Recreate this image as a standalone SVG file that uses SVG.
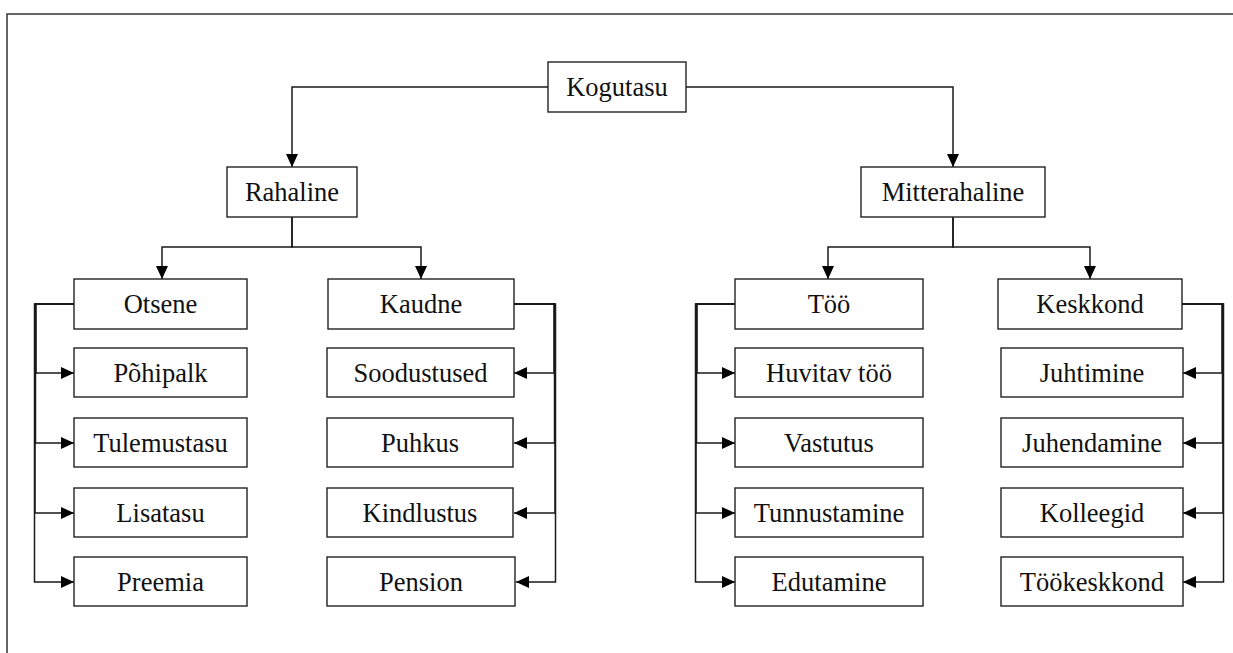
<svg xmlns="http://www.w3.org/2000/svg" width="1233" height="653" viewBox="0 0 1233 653">
<style>
.box{fill:#fff;stroke:#222;stroke-width:1.4}
.lbl{font-family:"Liberation Serif","Times New Roman",serif;font-size:26.5px;fill:#111;text-anchor:middle}
.con{fill:none;stroke:#1a1a1a;stroke-width:1.5}
.frame{fill:none;stroke:#333;stroke-width:1.5}
</style>
<defs>
<marker id="arr" viewBox="0 0 13 12" refX="13" refY="6" markerWidth="13" markerHeight="12" markerUnits="userSpaceOnUse" orient="auto">
<path d="M0,0 L13,6 L0,12 Z" fill="#000"/>
</marker>
</defs>
<rect width="1233" height="653" fill="#fff"/>
<path class="frame" d="M7,653 V14 H1233"/>
<g id="connectors">
<path class="con" marker-end="url(#arr)" d="M548,87 H292 V167"/>
<path class="con" marker-end="url(#arr)" d="M686,87 H953 V167"/>
<path class="con" marker-end="url(#arr)" d="M292,217 V247 H162 V279"/>
<path class="con" marker-end="url(#arr)" d="M292,217 V247 H421 V279"/>
<path class="con" marker-end="url(#arr)" d="M953,217 V247 H828 V279"/>
<path class="con" marker-end="url(#arr)" d="M953,217 V247 H1090 V279"/>
<path class="con" marker-end="url(#arr)" d="M74,304 H36 V373 H74"/>
<path class="con" marker-end="url(#arr)" d="M74,304 H35.5 V443 H74"/>
<path class="con" marker-end="url(#arr)" d="M74,304 H35 V513 H74"/>
<path class="con" marker-end="url(#arr)" d="M74,304 H34.5 V582 H74"/>
<path class="con" marker-end="url(#arr)" d="M514,304 H554 V373 H514"/>
<path class="con" marker-end="url(#arr)" d="M514,304 H554.5 V443 H514"/>
<path class="con" marker-end="url(#arr)" d="M514,304 H555 V513 H514"/>
<path class="con" marker-end="url(#arr)" d="M514,304 H555.5 V582 H516"/>
<path class="con" marker-end="url(#arr)" d="M735,304 H697 V373 H735"/>
<path class="con" marker-end="url(#arr)" d="M735,304 H696.5 V443 H735"/>
<path class="con" marker-end="url(#arr)" d="M735,304 H696 V513 H735"/>
<path class="con" marker-end="url(#arr)" d="M735,304 H695.5 V582 H735"/>
<path class="con" marker-end="url(#arr)" d="M1182,304 H1222 V373 H1183"/>
<path class="con" marker-end="url(#arr)" d="M1182,304 H1222.5 V443 H1183"/>
<path class="con" marker-end="url(#arr)" d="M1182,304 H1223 V513 H1183"/>
<path class="con" marker-end="url(#arr)" d="M1182,304 H1223.5 V582 H1183"/>
</g>
<g id="kogutasu"><rect class="box" x="548" y="62" width="138" height="50"/><text class="lbl" x="617" y="96">Kogutasu</text></g>
<g id="rahaline"><rect class="box" x="227" y="167" width="130" height="50"/><text class="lbl" x="292" y="201">Rahaline</text></g>
<g id="mitterahaline"><rect class="box" x="861" y="167" width="184" height="50"/><text class="lbl" x="953" y="201">Mitterahaline</text></g>
<g id="otsene"><rect class="box" x="74" y="279" width="173" height="50"/><text class="lbl" x="160.5" y="313">Otsene</text></g>
<g id="pohipalk"><rect class="box" x="74" y="348" width="173" height="49"/><text class="lbl" x="160.5" y="381.5">Põhipalk</text></g>
<g id="tulemustasu"><rect class="box" x="74" y="418" width="173" height="49"/><text class="lbl" x="160.5" y="451.5">Tulemustasu</text></g>
<g id="lisatasu"><rect class="box" x="74" y="488" width="173" height="49"/><text class="lbl" x="160.5" y="521.5">Lisatasu</text></g>
<g id="preemia"><rect class="box" x="74" y="557" width="173" height="49"/><text class="lbl" x="160.5" y="590.5">Preemia</text></g>
<g id="kaudne"><rect class="box" x="328" y="279" width="186" height="50"/><text class="lbl" x="421" y="313">Kaudne</text></g>
<g id="soodustused"><rect class="box" x="327" y="348" width="187" height="49"/><text class="lbl" x="420.5" y="381.5">Soodustused</text></g>
<g id="puhkus"><rect class="box" x="327" y="418" width="186" height="49"/><text class="lbl" x="420" y="451.5">Puhkus</text></g>
<g id="kindlustus"><rect class="box" x="327" y="488" width="186" height="49"/><text class="lbl" x="420" y="521.5">Kindlustus</text></g>
<g id="pension"><rect class="box" x="327" y="557" width="188" height="49"/><text class="lbl" x="421" y="590.5">Pension</text></g>
<g id="too"><rect class="box" x="735" y="279" width="188" height="50"/><text class="lbl" x="829" y="313">Töö</text></g>
<g id="huvitav-too"><rect class="box" x="735" y="348" width="188" height="49"/><text class="lbl" x="829" y="381.5">Huvitav töö</text></g>
<g id="vastutus"><rect class="box" x="735" y="418" width="188" height="49"/><text class="lbl" x="829" y="451.5">Vastutus</text></g>
<g id="tunnustamine"><rect class="box" x="735" y="488" width="188" height="49"/><text class="lbl" x="829" y="521.5">Tunnustamine</text></g>
<g id="edutamine"><rect class="box" x="735" y="557" width="188" height="49"/><text class="lbl" x="829" y="590.5">Edutamine</text></g>
<g id="keskkond"><rect class="box" x="998" y="279" width="184" height="50"/><text class="lbl" x="1090" y="313">Keskkond</text></g>
<g id="juhtimine"><rect class="box" x="1001" y="348" width="182" height="49"/><text class="lbl" x="1092" y="381.5">Juhtimine</text></g>
<g id="juhendamine"><rect class="box" x="1001" y="418" width="182" height="49"/><text class="lbl" x="1092" y="451.5">Juhendamine</text></g>
<g id="kolleegid"><rect class="box" x="1001" y="488" width="182" height="49"/><text class="lbl" x="1092" y="521.5">Kolleegid</text></g>
<g id="tookeskkond"><rect class="box" x="1001" y="557" width="182" height="49"/><text class="lbl" x="1092" y="590.5">Töökeskkond</text></g>
</svg>
